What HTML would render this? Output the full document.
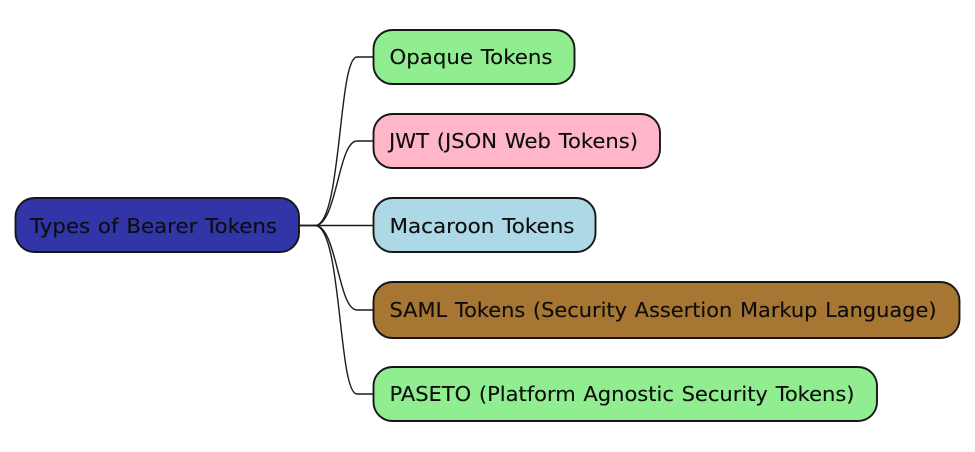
<!DOCTYPE html>
<html><head><meta charset="utf-8"><style>html,body{margin:0;padding:0;background:#fff;width:975px;height:452px;overflow:hidden}svg{display:block}text{font-family:"DejaVu Sans",sans-serif;font-size:20.6px;word-spacing:1px;fill:#0c0c0c;stroke:#0c0c0c;stroke-width:.12px}</style></head>
<body><svg width="975" height="452" viewBox="0 0 975 452" xmlns="http://www.w3.org/2000/svg">
<defs><filter id="b" x="-2%" y="-2%" width="104%" height="104%"><feGaussianBlur stdDeviation="0.3"/></filter></defs>
<g filter="url(#b)">
<g fill="none" stroke="#1a1a1a" stroke-width="1.4">
<path d="M299 225.500H315C342 225.500 338 57 357 57H374"/>
<path d="M299 225.500H315C337 225.500 338 141 357 141H374"/>
<path d="M299 225.500H374"/>
<path d="M315 225.500C337 225.500 338 310 357 310H374"/>
<path d="M315 225.500C342 225.500 338 394 357 394H374"/>
</g>
<g stroke="#181818" stroke-width="1.9">
<rect x="15.500" y="198" width="283.500" height="54" rx="19" fill="#3036a8"/>
<rect x="373.500" y="30" width="201" height="54" rx="19" fill="#90ee90"/>
<rect x="373.500" y="114" width="286.500" height="54" rx="19" fill="#ffb6c9"/>
<rect x="373.500" y="198" width="222" height="54" rx="19" fill="#add8e6"/>
<rect x="373.500" y="282" width="586" height="56" rx="19" fill="#a67630"/>
<rect x="373.500" y="367" width="503.500" height="54" rx="19" fill="#90ee90"/>
</g>
<text x="30" y="233" textLength="247" lengthAdjust="spacingAndGlyphs">Types of Bearer Tokens</text>
<text x="389.500" y="64" textLength="163" lengthAdjust="spacingAndGlyphs">Opaque Tokens</text>
<text x="389" y="148" textLength="249" lengthAdjust="spacingAndGlyphs">JWT (JSON Web Tokens)</text>
<text x="389.500" y="233" textLength="185" lengthAdjust="spacingAndGlyphs">Macaroon Tokens</text>
<text x="389.500" y="317" textLength="547" lengthAdjust="spacingAndGlyphs">SAML Tokens (Security Assertion Markup Language)</text>
<text x="389.500" y="401" textLength="465" lengthAdjust="spacingAndGlyphs">PASETO (Platform Agnostic Security Tokens)</text>
</g>
</svg></body></html>
